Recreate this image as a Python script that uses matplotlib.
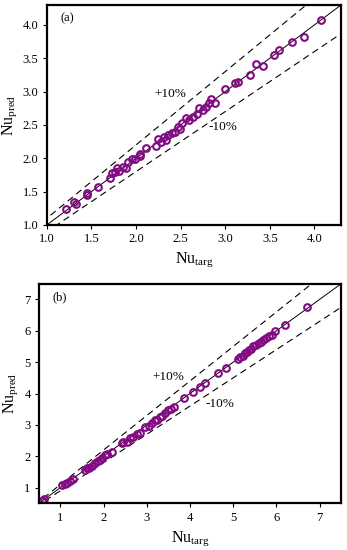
import numpy as np
import matplotlib
matplotlib.use("Agg")
import matplotlib.pyplot as plt

plt.rcParams["font.family"] = ["Liberation Serif", "DejaVu Serif"]
plt.rcParams["mathtext.fontset"] = "custom"
plt.rcParams["mathtext.rm"] = "Liberation Serif"
plt.rcParams["mathtext.it"] = "Liberation Serif"

# panel (a) data: target vs predicted Nusselt number
nu_targ_a = [1.21, 1.30, 1.33, 1.446, 1.45, 1.577, 1.708, 1.727, 1.76, 1.79,
             1.81, 1.85, 1.89, 1.91, 1.95, 1.99, 2.04, 2.045, 2.11, 2.22,
             2.25, 2.28, 2.31, 2.34, 2.36, 2.40, 2.44, 2.47, 2.49, 2.52,
             2.56, 2.59, 2.64, 2.68, 2.71, 2.75, 2.79, 2.82, 2.84, 2.89,
             3.00, 3.11, 3.14, 3.28, 3.35, 3.42, 3.55, 3.60, 3.75, 3.88, 4.08]
nu_pred_a = [1.235, 1.34, 1.315, 1.485, 1.45, 1.575, 1.70, 1.775, 1.80, 1.85,
             1.815, 1.875, 1.86, 1.95, 1.985, 1.99, 2.035, 2.065, 2.155, 2.19,
             2.285, 2.25, 2.325, 2.275, 2.35, 2.385, 2.40, 2.465, 2.435, 2.525,
             2.60, 2.575, 2.625, 2.665, 2.75, 2.725, 2.765, 2.835, 2.885, 2.835,
             3.035, 3.125, 3.15, 3.25, 3.415, 3.385, 3.55, 3.625, 3.74, 3.825, 4.075]

# panel (b) data
nu_targ_b = [0.58, 0.62, 1.03, 1.10, 1.15, 1.22, 1.30, 1.57, 1.62, 1.65, 1.72,
             1.80, 1.86, 1.92, 1.97, 2.03, 2.08, 2.19, 2.42, 2.46, 2.54, 2.62,
             2.69, 2.78, 2.85, 2.96, 3.05, 3.12, 3.18, 3.23, 3.30, 3.35, 3.42,
             3.50, 3.56, 3.62, 3.85, 4.07, 4.24, 4.35, 4.64, 4.83, 5.12, 5.17,
             5.22, 5.28, 5.32, 5.36, 5.42, 5.47, 5.53, 5.59, 5.65, 5.70, 5.76,
             5.82, 5.90, 5.97, 6.20, 6.72]
nu_pred_b = [0.58, 0.62, 1.07, 1.10, 1.16, 1.20, 1.27, 1.55, 1.62, 1.63, 1.70,
             1.77, 1.84, 1.875, 1.95, 2.03, 2.06, 2.14, 2.41, 2.44, 2.46, 2.58,
             2.62, 2.72, 2.73, 2.92, 2.98, 3.05, 3.14, 3.16, 3.25, 3.29, 3.38,
             3.48, 3.52, 3.58, 3.85, 4.04, 4.22, 4.33, 4.65, 4.81, 5.11, 5.18,
             5.20, 5.29, 5.33, 5.40, 5.43, 5.50, 5.54, 5.61, 5.64, 5.72, 5.76,
             5.82, 5.88, 5.98, 6.20, 6.75]

purple = "#820a82"

fig = plt.figure(figsize=(3.47, 5.5), dpi=100)
ax_a = fig.add_axes([0.135, 0.591, 0.848, 0.400])
ax_b = fig.add_axes([0.112, 0.085, 0.871, 0.399])


def draw_panel(ax, x, y, lim, ticks, fmt, tag, plus_pos, minus_pos):
    line = np.array([0, 10])
    ax.plot(line, line, color="black", lw=0.7)
    ax.plot(line, 1.1 * line, color="black", lw=0.8, ls=(0, (6, 4)))
    ax.plot(line, 0.9 * line, color="black", lw=0.8, ls=(0, (6, 4)))
    ax.plot(x, y, ls="none", marker="o", ms=4.8, mfc="none", mec=purple, mew=1.5)
    ax.set_xlim(lim)
    ax.set_ylim(lim)
    ax.set_xticks(ticks)
    ax.set_yticks(ticks)
    ax.set_xticklabels([fmt % t for t in ticks])
    ax.set_yticklabels([fmt % t for t in ticks])
    ax.tick_params(labelsize=9, length=3, width=0.8, direction="out", pad=3)
    for s in ax.spines.values():
        s.set_linewidth(1.6)
    ax.set_xlabel("Nu$_{\\mathrm{targ}}$", fontsize=11.5, labelpad=4)
    ax.set_ylabel("Nu$_{\\mathrm{pred}}$", fontsize=11.5, labelpad=3)
    ax.text(0.045, 0.925, tag, transform=ax.transAxes, fontsize=9)
    ax.text(plus_pos[0], plus_pos[1], "+10%", fontsize=9.5, ha="center", va="center")
    ax.text(minus_pos[0], minus_pos[1], "-10%", fontsize=9.5, ha="center", va="center")


draw_panel(ax_a, nu_targ_a, nu_pred_a, (1.0, 4.3),
           [1.0, 1.5, 2.0, 2.5, 3.0, 3.5, 4.0], "%.1f", "(a)",
           (2.39, 2.96), (2.98, 2.47))
draw_panel(ax_b, nu_targ_b, nu_pred_b, (0.5, 7.5),
           [1, 2, 3, 4, 5, 6, 7], "%d", "(b)",
           (3.5, 4.52), (4.7, 3.65))

fig.savefig("out.png", dpi=100)
